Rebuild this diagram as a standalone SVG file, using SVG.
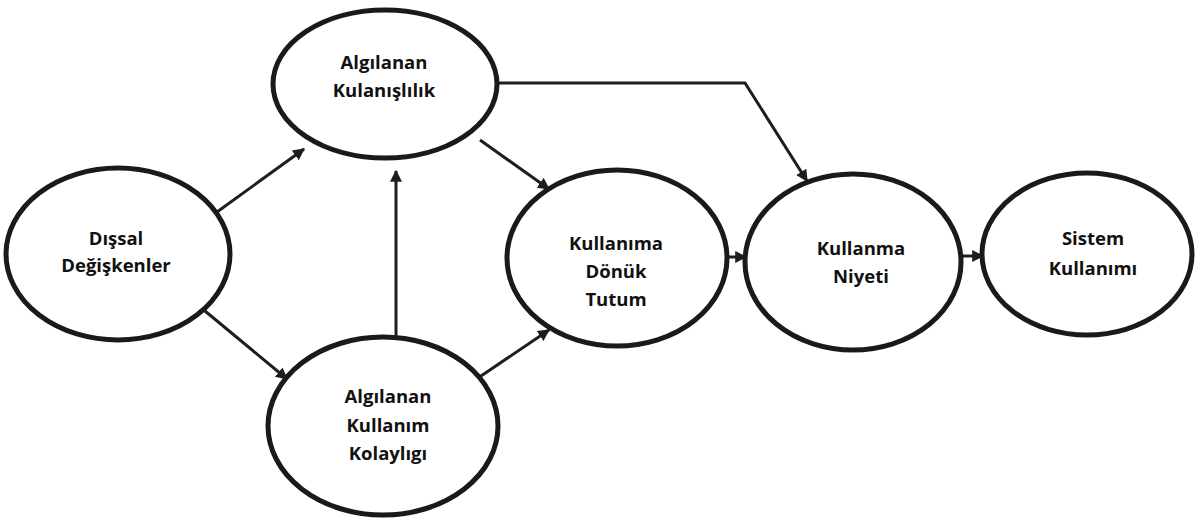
<svg xmlns="http://www.w3.org/2000/svg" width="1200" height="522" viewBox="0 0 1200 522">
<style>
.node ellipse{fill:#fff;stroke:#1a1a1a;stroke-width:5}
.node text{font-family:"Open Sans","Liberation Sans",sans-serif;font-weight:bold;font-size:18.5px;fill:#111;text-anchor:middle}
.conn{fill:none;stroke:#1e1e1e;stroke-width:3;marker-end:url(#ah)}
</style>
<defs>
<marker id="ah" viewBox="0 0 10 10" refX="9" refY="5" markerWidth="4" markerHeight="4" orient="auto" markerUnits="strokeWidth">
<path d="M0,0 L10,5 L0,10 z" fill="#1e1e1e"/>
</marker>
</defs>
<rect width="1200" height="522" fill="#fff"/>
<g id="connectors">
<line class="conn" x1="217" y1="212" x2="304" y2="149"/>
<line class="conn" x1="205" y1="311" x2="287" y2="379"/>
<line class="conn" x1="396" y1="338" x2="396" y2="171"/>
<line class="conn" x1="480" y1="140" x2="549" y2="189"/>
<line class="conn" x1="478" y1="378" x2="549" y2="330"/>
<polyline class="conn" points="497,83 745,83 807,181"/>
<line class="conn" x1="727" y1="257" x2="746" y2="257"/>
<line class="conn" x1="962" y1="256" x2="983" y2="256"/>
</g>
<g id="n-kulanislilik" class="node">
<ellipse cx="385" cy="84" rx="112" ry="74"/>
<text x="384" y="69">Algılanan</text>
<text x="384" y="97">Kulanışlılık</text>
</g>
<g id="n-dissal" class="node">
<ellipse cx="118" cy="254" rx="112" ry="86"/>
<text x="116" y="245">Dışsal</text>
<text x="116" y="272">Değişkenler</text>
</g>
<g id="n-kolaylik" class="node">
<ellipse cx="383" cy="426" rx="115" ry="89"/>
<text x="388" y="403">Algılanan</text>
<text x="388" y="432">Kullanım</text>
<text x="388" y="460">Kolaylıgı</text>
</g>
<g id="n-tutum" class="node">
<ellipse cx="617" cy="258" rx="110" ry="88"/>
<text x="616" y="250">Kullanıma</text>
<text x="616" y="278">Dönük</text>
<text x="616" y="306">Tutum</text>
</g>
<g id="n-niyet" class="node">
<ellipse cx="853" cy="262" rx="108" ry="88"/>
<text x="861" y="255">Kullanma</text>
<text x="861" y="283">Niyeti</text>
</g>
<g id="n-sistem" class="node">
<ellipse cx="1087" cy="254" rx="105" ry="81"/>
<text x="1093" y="245">Sistem</text>
<text x="1093" y="275">Kullanımı</text>
</g>
</svg>
